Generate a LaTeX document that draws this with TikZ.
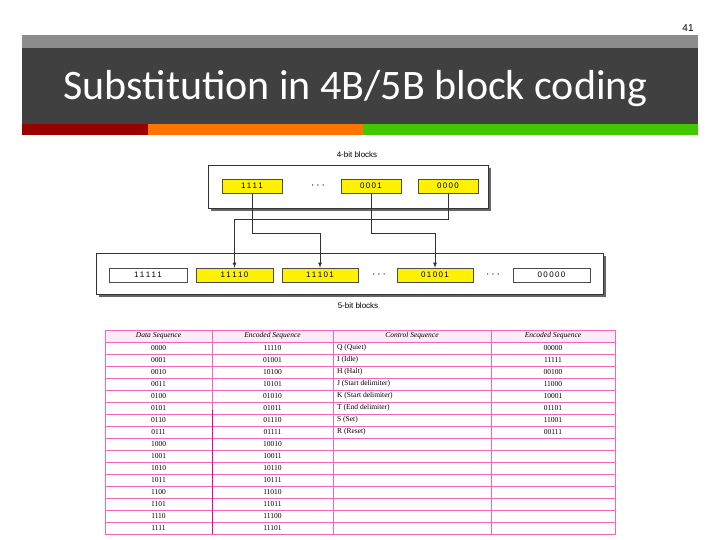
\documentclass[tikz,border=0pt]{standalone}
\usepackage{fontspec}
\setmainfont{Liberation Serif}
\newfontfamily\titlefont{Carlito}
\newfontfamily\sansf{Liberation Sans}
\begin{document}
\begin{tikzpicture}[x=1pt,y=-1pt,
  blk/.style={draw=black!70,fill=yellow,minimum height=14pt,inner sep=0pt,font=\sansf\fontsize{8}{8}\selectfont},
  wblk/.style={blk,fill=white},
  frame/.style={draw=black!80,fill=white},
  arr/.style={draw=black!80,line width=0.8pt,-latex},
  dots/.style={font=\bfseries\fontsize{12}{12}\selectfont},
  tl/.style={draw=magenta!60,line width=0.6pt},
  cell/.style={font=\fontsize{7.5}{8}\selectfont,inner sep=0pt}]
\useasboundingbox (0,0) rectangle (720,540);
\fill[white] (0,0) rectangle (720,540);
\node[font=\sansf\fontsize{10}{10}\selectfont] (pg) at (688,28) {41};
\fill[black!45] (22,35) rectangle (698,48);
\fill[black!75] (22,48) rectangle (698,124);
\fill[red!60!black] (22,124) rectangle (148,135);
\fill[orange!90!red] (148,124) rectangle (363,135);
\fill[green!55!olive!95!yellow] (363,124) rectangle (698,135);
\node[anchor=west,text=white,font=\titlefont\fontsize{42}{42}\selectfont] (title) at (60,89) {Substitution in 4B/5B block coding};
% top diagram
\node[font=\sansf\fontsize{8}{8}\selectfont] (l4) at (357,155) {4-bit blocks};
\fill[black!60] (211,168) rectangle (491,211);
\draw[frame] (208,165) rectangle (488,208);
\fill[black!60] (99,256) rectangle (606,297);
\draw[frame] (96,253) rectangle (603,294);
\node[blk,minimum width=60pt] (a1) at (252,186) {1\,1\,1\,1};
\node[dots] (d1) at (318,186) {$\cdots$};
\node[blk,minimum width=60pt] (a2) at (371,186) {0\,0\,0\,1};
\node[blk,minimum width=60pt] (a3) at (448,186) {0\,0\,0\,0};
\node[wblk,minimum width=78pt] (b1) at (148,275) {1\,1\,1\,1\,1};
\node[blk,minimum width=77pt] (b2) at (234.5,275) {1\,1\,1\,1\,0};
\node[blk,minimum width=76pt] (b3) at (320,275) {1\,1\,1\,0\,1};
\node[dots] (d2) at (379,275) {$\cdots$};
\node[blk,minimum width=76pt] (b4) at (435,275) {0\,1\,0\,0\,1};
\node[dots] (d3) at (493,275) {$\cdots$};
\node[wblk,minimum width=77pt] (b5) at (551.5,275) {0\,0\,0\,0\,0};
\node[font=\sansf\fontsize{8}{8}\selectfont] (l5) at (358,306) {5-bit blocks};
\draw[arr] (a1.south) -- (252,233) -| (b3.north);
\draw[arr] (a2.south) -- (371,233) -| (b4.north);
\draw[arr] (a3.south) -- (448,219) -| (b2.north);
% table
\fill[magenta!8] (105,330) rectangle (615,342);
\foreach \i in {0,...,16} {\draw[tl] (105,342+12*\i) -- (615,342+12*\i);}
\draw[tl] (105,330) rectangle (615,534);
\draw[tl] (212,330) -- (212,534);
\draw[tl] (333,330) -- (333,534);
\draw[tl] (491,330) -- (491,534);
\draw[magenta,line width=1pt] (212,410) -- (212,534);
\node[cell,font=\itshape\fontsize{7.5}{8}\selectfont] (h1) at (158.5,336) {Data Sequence};
\node[cell,font=\itshape\fontsize{7.5}{8}\selectfont] (h2) at (272.5,336) {Encoded Sequence};
\node[cell,font=\itshape\fontsize{7.5}{8}\selectfont] (h3) at (412,336) {Control Sequence};
\node[cell,font=\itshape\fontsize{7.5}{8}\selectfont] (h4) at (553,336) {Encoded Sequence};
\foreach \d/\e [count=\i from 0] in {0000/11110,0001/01001,0010/10100,0011/10101,0100/01010,0101/01011,0110/01110,0111/01111,1000/10010,1001/10011,1010/10110,1011/10111,1100/11010,1101/11011,1110/11100,1111/11101} {
  \node[cell] (d\i) at (158.5,348+12*\i) {\d};
  \node[cell] (e\i) at (272.5,348+12*\i) {\e};
}
\foreach \c/\e [count=\i from 0] in {Q (Quiet)/00000,I (Idle)/11111,H (Halt)/00100,J (Start delimiter)/11000,K (Start delimiter)/10001,T (End delimiter)/01101,S (Set)/11001,R (Reset)/00111} {
  \node[cell,anchor=west] (c\i) at (337,348+12*\i) {\c};
  \node[cell] (f\i) at (553,348+12*\i) {\e};
}
\end{tikzpicture}
\end{document}
